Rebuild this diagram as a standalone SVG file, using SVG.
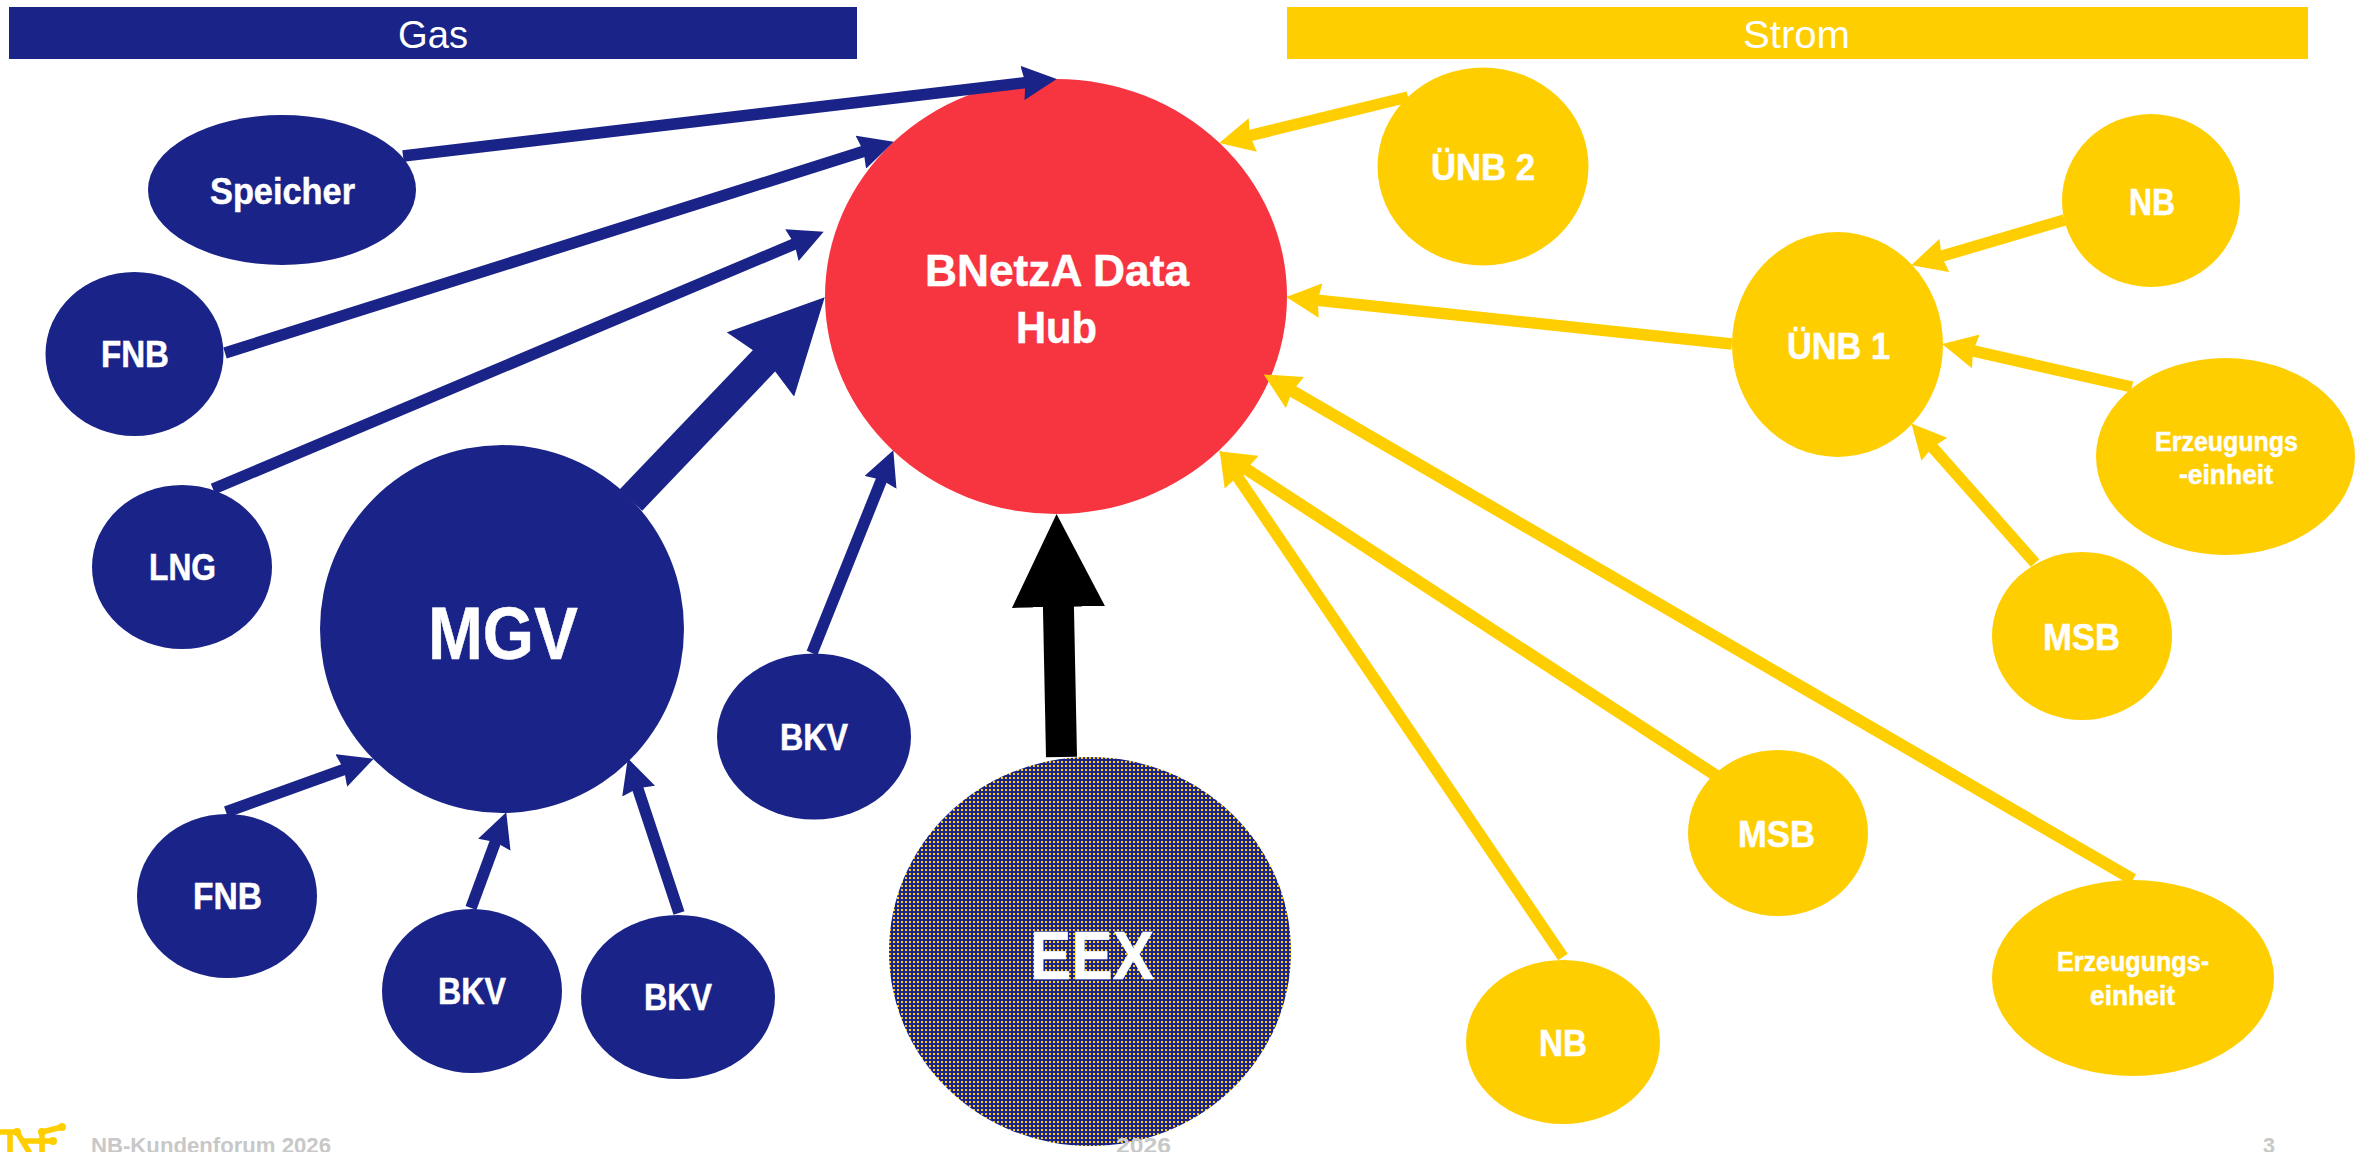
<svg xmlns="http://www.w3.org/2000/svg" width="2366" height="1152" viewBox="0 0 2366 1152">
<style>
.g{fill:#1a2387}.y{fill:#ffce00}
text{font-family:"Liberation Sans",Arial,sans-serif;font-weight:700;fill:#fff;stroke:#fff;stroke-width:.5}
.hd{font-weight:400;font-size:39px;stroke:none}
.ft{fill:#c8c8c8;stroke:none;font-size:22px}
.cg,.cy,.ck{fill:none}
.cg{stroke:#1a2387}.cy{stroke:#ffce00}.ck{stroke:#000}
.w{stroke-width:11.5}
</style>
<defs>
<pattern id="dots" width="4" height="4" patternUnits="userSpaceOnUse"><rect width="4" height="4" fill="#1a2387"/><rect x="1" y="1" width="2" height="2" fill="#ffce00"/></pattern>
<marker id="ag" viewBox="0 0 3 3" markerWidth="3" markerHeight="3" refX="1.5" refY="1.5" orient="auto" markerUnits="strokeWidth"><path d="M0,0L3,1.5L0,3L.25,1.5Z" fill="#1a2387"/></marker>
<marker id="ay" viewBox="0 0 3 3" markerWidth="3" markerHeight="3" refX="1.5" refY="1.5" orient="auto" markerUnits="strokeWidth"><path d="M0,0L3,1.5L0,3L.25,1.5Z" fill="#ffce00"/></marker>
<marker id="ak" viewBox="0 0 3 3" markerWidth="3" markerHeight="3" refX="1.5" refY="1.5" orient="auto" markerUnits="strokeWidth"><path d="M0,0L3,1.5L0,3Z" fill="#000"/></marker>
</defs>
<g id="header-gas"><rect class="g" x="9" y="7" width="848" height="52"/><text class="hd" x="398" y="48" textLength="70" lengthAdjust="spacingAndGlyphs">Gas</text></g>
<g id="header-strom"><rect class="y" x="1287" y="7" width="1021" height="52"/><text class="hd" x="1743" y="48" textLength="107" lengthAdjust="spacingAndGlyphs">Strom</text></g>
<g id="hub"><ellipse cx="1056" cy="296.5" rx="231" ry="217.5" fill="#f73541"/><text x="925" y="286" font-size="45" textLength="264" lengthAdjust="spacingAndGlyphs">BNetzA Data</text><text x="1016" y="343" font-size="45" textLength="81" lengthAdjust="spacingAndGlyphs">Hub</text></g>
<g id="speicher"><ellipse class="g" cx="282" cy="190" rx="134" ry="75"/><text x="210" y="204" font-size="36" textLength="145" lengthAdjust="spacingAndGlyphs">Speicher</text></g>
<g id="fnb1"><ellipse class="g" cx="134.5" cy="354" rx="89" ry="82"/><text x="101" y="367" font-size="36" textLength="68" lengthAdjust="spacingAndGlyphs">FNB</text></g>
<g id="lng"><ellipse class="g" cx="182" cy="567" rx="90" ry="82"/><text x="149" y="580" font-size="36" textLength="67" lengthAdjust="spacingAndGlyphs">LNG</text></g>
<g id="mgv"><ellipse class="g" cx="502" cy="629" rx="182" ry="184"/><text x="428" y="659" font-size="74" textLength="150" lengthAdjust="spacingAndGlyphs">MGV</text></g>
<g id="bkv-mid"><ellipse class="g" cx="814" cy="736.5" rx="97" ry="83"/><text x="780" y="750" font-size="36" textLength="68" lengthAdjust="spacingAndGlyphs">BKV</text></g>
<g id="fnb2"><ellipse class="g" cx="227" cy="896" rx="90" ry="82"/><text x="193" y="909" font-size="36" textLength="69" lengthAdjust="spacingAndGlyphs">FNB</text></g>
<g id="bkv1"><ellipse class="g" cx="472" cy="991" rx="90" ry="82"/><text x="438" y="1004" font-size="36" textLength="68" lengthAdjust="spacingAndGlyphs">BKV</text></g>
<g id="bkv2"><ellipse class="g" cx="678" cy="997" rx="97" ry="82"/><text x="644" y="1010" font-size="36" textLength="68" lengthAdjust="spacingAndGlyphs">BKV</text></g>
<g id="eex"><ellipse cx="1090" cy="951.5" rx="201" ry="194.5" fill="url(#dots)"/><text x="1030" y="979" font-size="69" textLength="124" lengthAdjust="spacingAndGlyphs">EEX</text></g>
<g id="uenb2"><ellipse class="y" cx="1483" cy="166.5" rx="105.5" ry="99"/><text x="1431" y="180" font-size="36" textLength="104" lengthAdjust="spacingAndGlyphs">ÜNB 2</text></g>
<g id="nb-top"><ellipse class="y" cx="2151" cy="200.5" rx="89" ry="86.5"/><text x="2129" y="215" font-size="36" textLength="46" lengthAdjust="spacingAndGlyphs">NB</text></g>
<g id="uenb1"><ellipse class="y" cx="1837.5" cy="344.5" rx="105.5" ry="112.5"/><text x="1787" y="359" font-size="36" textLength="103" lengthAdjust="spacingAndGlyphs">ÜNB 1</text></g>
<g id="erz1"><ellipse class="y" cx="2225.5" cy="456.5" rx="129.5" ry="98.5"/><text x="2155" y="451" font-size="27" textLength="143" lengthAdjust="spacingAndGlyphs">Erzeugungs</text><text x="2179" y="484" font-size="27" textLength="94" lengthAdjust="spacingAndGlyphs">-einheit</text></g>
<g id="msb1"><ellipse class="y" cx="2082" cy="636" rx="90" ry="84"/><text x="2043" y="650" font-size="36" textLength="77" lengthAdjust="spacingAndGlyphs">MSB</text></g>
<g id="msb2"><ellipse class="y" cx="1778" cy="833" rx="90" ry="83"/><text x="1738" y="847" font-size="36" textLength="77" lengthAdjust="spacingAndGlyphs">MSB</text></g>
<g id="nb-bottom"><ellipse class="y" cx="1563" cy="1042" rx="97" ry="82"/><text x="1539" y="1056" font-size="36" textLength="48" lengthAdjust="spacingAndGlyphs">NB</text></g>
<g id="erz2"><ellipse class="y" cx="2133" cy="978" rx="141" ry="98"/><text x="2057" y="971" font-size="27" textLength="152" lengthAdjust="spacingAndGlyphs">Erzeugungs-</text><text x="2090" y="1005" font-size="27" textLength="85" lengthAdjust="spacingAndGlyphs">einheit</text></g>
<g id="connectors">
<line class="cg w" marker-end="url(#ag)" x1="403" y1="156" x2="1039.6" y2="80.9"/>
<line class="cg w" marker-end="url(#ag)" x1="225" y1="353" x2="877.3" y2="147"/>
<line class="cg w" marker-end="url(#ag)" x1="213" y1="489" x2="807.8" y2="238.4"/>
<line class="cg" stroke-width="31" marker-end="url(#ag)" x1="631" y1="500" x2="792.6" y2="330.9"/>
<line class="cg w" marker-end="url(#ag)" x1="812" y1="653" x2="886.9" y2="466.3"/>
<line class="cg w" marker-end="url(#ag)" x1="226" y1="812" x2="357.5" y2="764.6"/>
<line class="cg w" marker-end="url(#ag)" x1="471" y1="908" x2="500.3" y2="828.5"/>
<line class="cg w" marker-end="url(#ag)" x1="679" y1="913" x2="633.2" y2="774.7"/>
<line class="ck" stroke-width="31" marker-end="url(#ak)" x1="1061.5" y1="757" x2="1057.5" y2="560.5"/>
<line class="cy w" marker-end="url(#ay)" x1="1408" y1="97" x2="1236" y2="139"/>
<line class="cy w" marker-end="url(#ay)" x1="1732" y1="344" x2="1303.4" y2="298.7"/>
<line class="cy w" marker-end="url(#ay)" x1="2064.5" y1="220" x2="1927.8" y2="260.3"/>
<line class="cy w" marker-end="url(#ay)" x1="2132" y1="387" x2="1959" y2="347.7"/>
<line class="cy w" marker-end="url(#ay)" x1="2035" y1="563" x2="1922.9" y2="436.4"/>
<line class="cy" stroke-width="12" marker-end="url(#ay)" x1="2133" y1="879.5" x2="1279.3" y2="383.5"/>
<line class="cy" stroke-width="12" marker-end="url(#ay)" x1="1716" y1="775.5" x2="1233.8" y2="461"/>
<line class="cy w" marker-end="url(#ay)" x1="1563" y1="957" x2="1229.3" y2="464.7"/>
</g>
<g id="footer">
<g fill="none" stroke="#ffce00" stroke-width="5.5" stroke-linecap="round"><path d="M0,1132H17L29,1152M10,1132V1152M42,1132V1152M42,1132L62,1127M25,1141H53"/></g>
<g fill="#ffce00"><circle cx="17" cy="1132" r="4"/><circle cx="42" cy="1132" r="4"/><circle cx="62" cy="1127" r="4"/><circle cx="53" cy="1141" r="4"/></g>
<text class="ft" x="91" y="1153" textLength="240" lengthAdjust="spacingAndGlyphs">NB-Kundenforum 2026</text>
<text class="ft" x="1116" y="1153" textLength="55" lengthAdjust="spacingAndGlyphs">2026</text>
<text class="ft" x="2263" y="1153" textLength="12" lengthAdjust="spacingAndGlyphs">3</text>
</g>
</svg>
